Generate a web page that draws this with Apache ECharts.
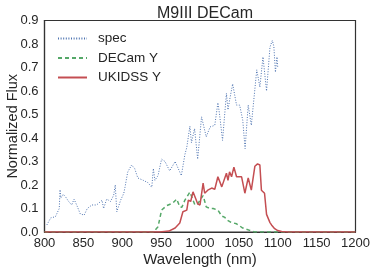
<!DOCTYPE html>
<html><head><meta charset="utf-8">
<script src="https://cdn.jsdelivr.net/npm/echarts@6/dist/echarts.min.js"></script>
<style>html,body{margin:0;padding:0;background:#fff}#c{width:374px;height:274px}</style>
</head><body><div id="c"></div>
<script>
var specWave = [803,808,814,819,820,821,824,827,831,835,838,842,846,851,855,861,867,874,876,880,885,889,891,893,898,902,903.5,907,912,916,920,927,933,938,940,942,946,950.6,955,961,968,976,980.6,983,987,989,993,997,1002,1008,1013,1019,1023,1025,1029,1034,1036,1038,1042,1047,1051,1055,1058,1062,1066,1073,1077,1081,1085.6,1090,1093,1095,1097,1099,1100];
var specFlux = [0.03,0.06,0.065,0.10,0.18,0.145,0.16,0.15,0.13,0.115,0.14,0.11,0.077,0.072,0.10,0.115,0.115,0.135,0.10,0.14,0.13,0.157,0.20,0.086,0.136,0.165,0.19,0.255,0.285,0.27,0.23,0.22,0.21,0.19,0.27,0.22,0.24,0.31,0.30,0.26,0.30,0.24,0.33,0.36,0.45,0.38,0.44,0.31,0.49,0.405,0.447,0.454,0.55,0.505,0.39,0.59,0.52,0.56,0.63,0.54,0.54,0.475,0.355,0.54,0.454,0.69,0.617,0.745,0.60,0.787,0.815,0.79,0.68,0.745,0.70];

var decamWave = [800,940,942,946,950.6,957,965,970,974,976.7,980.6,983,987,993.5,997,1004,1008,1013,1017,1023,1028,1032,1034,1040,1047,1055,1064,1070,1200];
var decamFlux = [0,0,0.003,0.022,0.093,0.112,0.123,0.14,0.107,0.105,0.136,0.144,0.17,0.115,0.12,0.155,0.107,0.10,0.10,0.093,0.068,0.062,0.052,0.041,0.035,0.017,0.007,0,0];

var ukWave = [800,948,960,968,974,978,983,985,988,991,993.5,997,1000,1004,1006,1010,1015,1019,1023,1028,1034,1036,1038,1040.6,1043.6,1047,1053.5,1057.7,1062,1066,1070.6,1074,1077,1079,1081,1083,1085.6,1090,1092,1096,1100,1105,1112,1200];
var ukFlux = [0,0,0.004,0.017,0.038,0.086,0.093,0.136,0.13,0.171,0.15,0.12,0.115,0.208,0.165,0.178,0.187,0.182,0.235,0.192,0.25,0.22,0.256,0.235,0.276,0.235,0.235,0.165,0.23,0.178,0.28,0.29,0.285,0.178,0.171,0.165,0.075,0.04,0.03,0.014,0.006,0.002,0,0];

var xTicks = [800,850,900,950,1000,1050,1100,1150,1200];
var yTicks = [0.0,0.1,0.2,0.3,0.4,0.5,0.6,0.7,0.8,0.9];
var seriesNames = ['spec','DECam Y','UKIDSS Y'];

function pairs(a,b){return a.map(function(v,i){return [v,b[i]];});}

var chart = echarts.init(document.getElementById('c'));
var font = 'Liberation Sans, Arial, sans-serif';
var ink = '#262626';
chart.setOption({
  animation:false,
  title:{text:'M9III DECam',left:200,textAlign:'center',top:1,textStyle:{fontFamily:font,fontSize:16,fontWeight:'normal',color:ink}},
  legend:{left:52,top:26.5,orient:'vertical',itemWidth:29,itemHeight:2,itemGap:5.5,
    itemStyle:{opacity:0},
    textStyle:{fontFamily:font,fontSize:13.5,color:ink,padding:[0,0,0,6]},
    data:seriesNames},
  grid:{left:44.5,right:18.5,top:20.5,bottom:42,containLabel:false,outerBoundsMode:'none',show:true,borderColor:'#333',borderWidth:1.2},
  xAxis:{type:'value',min:xTicks[0],max:xTicks[xTicks.length-1],interval:50,name:'Wavelength (nm)',nameLocation:'middle',nameGap:20,nameMoveOverlap:false,
    nameTextStyle:{fontFamily:font,fontSize:15,color:ink},
    axisLine:{show:true,lineStyle:{color:'#333',width:1.2}},axisTick:{show:false},splitLine:{show:false},
    axisLabel:{fontFamily:font,fontSize:13,color:ink,margin:5,formatter:function(v){return String(v);}}},
  yAxis:{type:'value',min:yTicks[0],max:yTicks[yTicks.length-1],interval:0.1,name:'Normalized Flux',nameLocation:'middle',nameGap:24,nameMoveOverlap:false,
    nameTextStyle:{fontFamily:font,fontSize:14.5,color:ink},
    axisLine:{show:true,lineStyle:{color:'#333',width:1.2}},axisTick:{show:false},splitLine:{show:false},
    axisLabel:{fontFamily:font,fontSize:13,color:ink,margin:6,formatter:function(v){return v.toFixed(1);}}},
  series:[
    {name:seriesNames[0],type:'line',data:pairs(specWave,specFlux),symbol:'none',
      lineStyle:{color:'#4C72B0',width:1,type:[1,1.6]},itemStyle:{color:'#4C72B0'}},
    {name:seriesNames[1],type:'line',data:pairs(decamWave,decamFlux),symbol:'none',
      lineStyle:{color:'#55A868',width:1.5,type:[4,3]},itemStyle:{color:'#55A868'}},
    {name:seriesNames[2],type:'line',data:pairs(ukWave,ukFlux),symbol:'none',
      lineStyle:{color:'#C44E52',width:1.5,type:'solid'},itemStyle:{color:'#C44E52'}}
  ]
});
</script></body></html>
